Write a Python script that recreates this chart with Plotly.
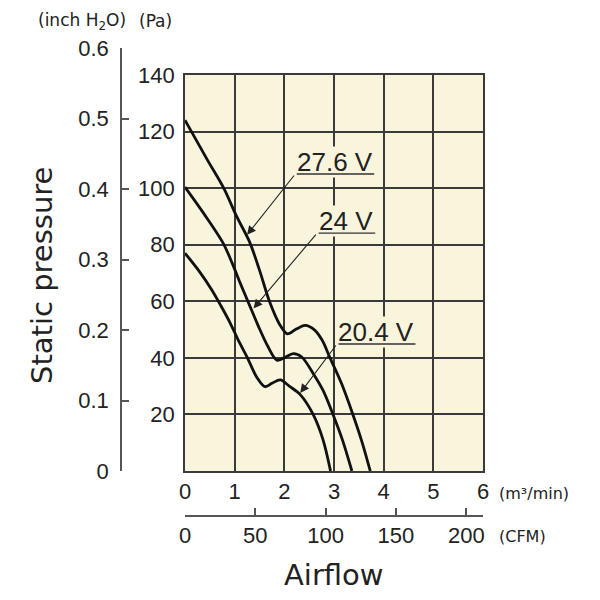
import plotly.graph_objects as go

# ---------------- data ----------------
flow_276 = [0, 0.13, 0.45, 0.78, 1.04, 1.30, 1.50, 1.70, 1.90, 2.06, 2.25, 2.42, 2.60, 2.76, 2.92, 3.15, 3.38, 3.56, 3.73]
pres_276 = [124, 120, 110, 100, 90, 81, 71, 60, 52, 48.5, 50.3, 51.5, 50, 46.3, 40, 31, 20, 10.5, 0]

flow_240 = [0, 0.38, 0.77, 0.95, 1.11, 1.29, 1.47, 1.67, 1.85, 2.00, 2.18, 2.35, 2.58, 2.78, 2.98, 3.17, 3.36]
pres_240 = [100.4, 91, 80.5, 73.5, 66.5, 59, 51.5, 44, 39.2, 40, 41.5, 40.3, 34.5, 28.5, 20, 11, 0]

flow_204 = [0, 0.27, 0.54, 0.72, 0.91, 1.08, 1.25, 1.45, 1.61, 1.75, 1.92, 2.10, 2.32, 2.58, 2.78, 2.93]
pres_204 = [77, 71, 64, 58.5, 52.3, 46, 40.3, 33, 29.8, 31, 32.2, 30, 27, 20, 11, 0]

series_names = ["27.6 V", "24 V", "20.4 V"]
# label: (underline left x, underline right x, underline y, arrow tip x, arrow tip y)
label_pos = [
    (2.22, 3.81, 105.0, 1.25, 83.5),
    (2.66, 3.83, 84.1, 1.38, 57.5),
    (3.06, 4.64, 44.9, 2.32, 27.6),
]

x_ticks = [0, 1, 2, 3, 4, 5, 6]
y_ticks = [20, 40, 60, 80, 100, 120, 140]
cfm_ticks = [0, 50, 100, 150, 200]
inch_ticks = [0, 0.1, 0.2, 0.3, 0.4, 0.5, 0.6]
inch_text = ["0", "0.1", "0.2", "0.3", "0.4", "0.5", "0.6"]

CFM_PER_M3MIN = 35.3147
PA_PER_INH2O = 249.089
X_MAX = 6
Y_MAX = 140

# ---------------- layout geometry ----------------
W = H = 600
px_l, px_r, px_b, px_t = 185, 483, 471, 75
xdom = [px_l / W, px_r / W]
ydom = [1 - px_b / H, 1 - px_t / H]
inch_top = ydom[0] + (ydom[1] - ydom[0]) * (0.6 * PA_PER_INH2O / Y_MAX)

CREAM = "#f8f5dc"
GRID = "#3a3a3a"
TXT = "#222222"
TICKF = "Liberation Sans, Arial, sans-serif"
WIDE = "DejaVu Sans, Verdana, sans-serif"
LBL = "Liberation Sans, Arial, sans-serif"
TS = 22

fig = go.Figure()
for fx, py in [(flow_276, pres_276), (flow_240, pres_240), (flow_204, pres_204)]:
    fig.add_trace(go.Scatter(x=fx, y=py, mode="lines",
                             line=dict(color="#111111", width=2.8, shape="spline", smoothing=0.9),
                             showlegend=False, hoverinfo="skip"))

# dummy traces to instantiate secondary axes
fig.add_trace(go.Scatter(x=[0], y=[0], xaxis="x2", yaxis="y", mode="markers",
                         marker=dict(opacity=0, size=1), showlegend=False, hoverinfo="skip"))
fig.add_trace(go.Scatter(x=[0], y=[0], xaxis="x3", yaxis="y2", mode="markers",
                         marker=dict(opacity=0, size=1), showlegend=False, hoverinfo="skip"))

fig.update_layout(
    width=W, height=H,
    margin=dict(l=0, r=0, t=0, b=0, pad=0, autoexpand=False),
    paper_bgcolor="white",
    plot_bgcolor="rgba(0,0,0,0)",
    xaxis=dict(domain=xdom, range=[0, X_MAX], tickvals=x_ticks, showgrid=True,
               gridcolor=GRID, gridwidth=1.5, showline=True, linecolor=GRID, linewidth=1.8,
               mirror=True, ticks="", zeroline=False, anchor="y", automargin=False,
               tickfont=dict(family=TICKF, size=TS, color=TXT)),
    yaxis=dict(domain=ydom, range=[0, Y_MAX], tickvals=y_ticks, showgrid=True,
               gridcolor=GRID, gridwidth=1.5, showline=True, linecolor=GRID, linewidth=1.8,
               mirror=True, ticks="", zeroline=False, anchor="x", automargin=False,
               ticklabelstandoff=4,
               tickfont=dict(family=TICKF, size=TS, color=TXT)),
    xaxis2=dict(overlaying="x", anchor="free", position=1 - 516 / H, side="bottom",
                range=[0, X_MAX * CFM_PER_M3MIN], tickvals=cfm_ticks, showgrid=False,
                zeroline=False, showline=True, linecolor="#555555", linewidth=1.5,
                ticks="inside", ticklen=7, tickcolor="#555555", tickwidth=1.5, automargin=False,
                tickfont=dict(family=TICKF, size=TS, color=TXT)),
    xaxis3=dict(domain=[0, 0.005], visible=False, anchor="y2", range=[0, 1], automargin=False),
    yaxis2=dict(domain=[ydom[0], inch_top], anchor="free", position=121 / W, side="left",
                range=[0, 0.6], tickvals=inch_ticks, ticktext=inch_text, showgrid=False,
                zeroline=False, showline=True, linecolor="#555555", linewidth=1.5,
                ticks="inside", ticklen=7, tickcolor="#555555", tickwidth=1.5, automargin=False,
                ticklabelstandoff=7,
                tickfont=dict(family=TICKF, size=TS, color=TXT)),
    shapes=[dict(type="rect", xref="x domain", yref="y domain", x0=0, x1=1, y0=0, y1=1,
                 fillcolor=CREAM, line=dict(width=0), layer="below")],
)

ann = []
for name, (ulx, urx, uy, tx, ty) in zip(series_names, label_pos):
    ann.append(dict(x=(ulx + urx) / 2, y=uy, xref="x", yref="y", text=name, showarrow=False,
                    xanchor="center", yanchor="bottom", yshift=-4, bgcolor=CREAM, borderpad=0,
                    font=dict(family=LBL, size=26, color=TXT)))
    ann.append(dict(x=urx, y=uy, ax=ulx, ay=uy, xref="x", yref="y", axref="x", ayref="y",
                    text="", showarrow=True, arrowhead=0, arrowwidth=1.3, arrowcolor="#333333",
                    standoff=0, startstandoff=0))
    ann.append(dict(x=tx, y=ty, ax=ulx, ay=uy, xref="x", yref="y", axref="x", ayref="y",
                    text="", showarrow=True, arrowhead=2, arrowsize=1.6, arrowwidth=1.1,
                    arrowcolor="#222222", standoff=0, startstandoff=0))

ann += [
    dict(x=42 / W, y=1 - 276 / H, xref="paper", yref="paper", text="Static pressure",
         textangle=-90, showarrow=False, xanchor="center", yanchor="middle",
         font=dict(family=WIDE, size=29, color=TXT)),
    dict(x=334 / W, y=1 - 575 / H, xref="paper", yref="paper", text="Airflow",
         showarrow=False, xanchor="center", yanchor="middle",
         font=dict(family=WIDE, size=29, color=TXT)),
    dict(x=497 / W, y=1 - 493 / H, xref="paper", yref="paper", text="(m³/min)",
         xanchor="left", yanchor="middle", showarrow=False,
         font=dict(family=WIDE, size=16, color=TXT)),
    dict(x=497 / W, y=1 - 536 / H, xref="paper", yref="paper", text="(CFM)",
         xanchor="left", yanchor="middle", showarrow=False,
         font=dict(family=WIDE, size=16, color=TXT)),
    dict(x=82 / W, y=1 - 21 / H, xref="paper", yref="paper", text="(inch H<sub>2</sub>O)",
         showarrow=False, xanchor="center", yanchor="middle",
         font=dict(family=WIDE, size=17, color=TXT)),
    dict(x=155 / W, y=1 - 21 / H, xref="paper", yref="paper", text="(Pa)",
         showarrow=False, xanchor="center", yanchor="middle",
         font=dict(family=WIDE, size=17, color=TXT)),
]
fig.update_layout(annotations=ann)

fig.write_html("out.html")
